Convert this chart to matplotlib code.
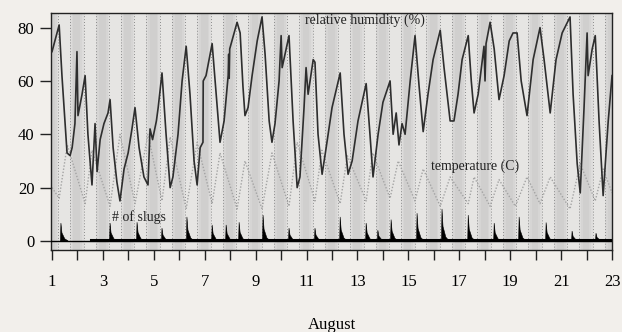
import matplotlib
matplotlib.use("Agg")
import matplotlib.pyplot as plt
import numpy as np

# relative humidity (%): (day of August, value)
rh_day = [1.00, 1.28, 1.39, 1.59, 1.71, 1.79, 1.90, 1.98, 2.02, 2.18, 2.30, 2.41, 2.57, 2.69,
          2.77, 2.89, 3.04, 3.20, 3.28, 3.40, 3.55, 3.67, 3.83, 3.99, 4.14, 4.26, 4.42, 4.61,
          4.77, 4.85, 4.95, 5.10, 5.17, 5.32, 5.48, 5.64, 5.75, 5.95, 6.11, 6.27, 6.42, 6.58,
          6.70, 6.82, 6.93, 6.94, 7.05, 7.29, 7.45, 7.60, 7.76, 7.92, 7.94, 7.96, 7.98, 8.27,
          8.39, 8.50, 8.58, 8.70, 8.86, 9.06, 9.25, 9.37, 9.53, 9.64, 9.76, 9.92, 10.00, 10.04,
          10.20, 10.31, 10.47, 10.63, 10.74, 10.90, 10.98, 11.06, 11.26, 11.33, 11.45, 11.61,
          11.77, 12.00, 12.32, 12.47, 12.63, 12.79, 13.02, 13.34, 13.49, 13.61, 13.81, 14.00,
          14.28, 14.40, 14.52, 14.63, 14.75, 14.87, 15.07, 15.26, 15.42, 15.58, 15.77, 15.97,
          16.25, 16.40, 16.64, 16.79, 16.95, 17.11, 17.35, 17.47, 17.58, 17.74, 17.97, 18.01,
          18.05, 18.21, 18.37, 18.56, 18.76, 18.96, 19.11, 19.27, 19.43, 19.66, 19.90, 20.17,
          20.33, 20.57, 20.80, 21.04, 21.35, 21.47, 21.63, 21.75, 21.90, 22.02, 22.06, 22.22,
          22.34, 22.49, 22.65, 22.85, 23.00]
rh_val = [71, 81, 62, 33, 32, 35, 44, 71, 47, 55, 62, 40, 21, 44,
          26, 38, 44, 48, 53, 35, 22, 15, 27, 33, 42, 50, 35, 24,
          21, 42, 38, 45, 50, 63, 40, 20, 24, 40, 60, 73, 55, 30,
          21, 35, 37, 60, 62, 74, 55, 37, 45, 62, 70, 61, 72, 82,
          78, 58, 47, 50, 62, 75, 84, 70, 45, 37, 44, 60, 77, 65,
          72, 77, 45, 20, 24, 50, 65, 55, 68, 67, 40, 25,
          35, 50, 63, 40, 25, 30, 45, 59, 40, 24, 40, 52,
          60, 40, 48, 36, 44, 40, 60, 77, 58, 41, 55, 68,
          79, 65, 45, 45, 55, 68, 77, 60, 48, 55, 73, 60,
          74, 82, 72, 53, 62, 75, 78, 78, 60, 47, 68, 80,
          68, 48, 68, 78, 84, 55, 29, 18, 50, 78, 62, 72,
          77, 45, 17, 45, 62]

# temperature (C)
temp_day = [1.00, 1.28, 1.60, 2.30, 2.57, 3.28, 3.67, 4.26, 4.77, 5.32, 5.64, 6.27, 6.70,
            7.29, 7.60, 8.27, 8.58, 9.25, 9.64, 10.31, 10.63, 11.33, 11.60, 12.32, 12.60,
            13.34, 13.60, 14.28, 14.60, 15.26, 15.58, 16.25, 16.64, 17.35, 17.58, 18.21,
            18.56, 19.20, 19.66, 20.17, 20.57, 21.35, 21.75, 22.34, 22.65, 23.00]
temp_val = [20, 16, 36, 14, 34, 13, 40, 14, 40, 15, 39, 12, 37,
            14, 33, 12, 30, 12, 33, 13, 37, 15, 34, 14, 32,
            15, 33, 16, 30, 15, 27, 13, 24, 14, 24, 13,
            23, 13, 24, 14, 24, 12, 29, 15, 27, 18]

# number of slugs: nightly peaks (day, count)
slug_day = [1.35, 3.28, 4.34, 5.32, 6.30, 7.29, 7.84, 8.35, 9.29, 10.31, 11.33, 12.32,
            13.34, 13.80, 14.32, 15.34, 16.32, 17.35, 18.37, 19.35, 20.41, 21.43, 22.37]
slug_val = [6.7, 6.7, 7.0, 4.8, 9.0, 6.0, 6.0, 7.0, 9.7, 4.8, 4.8, 9.0,
            6.7, 4.0, 8.0, 10.4, 12.0, 9.7, 6.7, 9.0, 6.9, 3.7, 2.9]
slug_start, slug_end = 2.55, 23.0

days = list(range(1, 23))
sunrise, sunset = 0.24, 0.71   # fraction of the day

plt.rcParams["font.family"] = ["Liberation Serif", "DejaVu Serif"]
paper = "#f2efeb"
fig = plt.figure(figsize=(6.22, 3.32), dpi=100, facecolor=paper)
ax = fig.add_axes([0.082, 0.247, 0.902, 0.714])
ax.set_facecolor("#e6e5e3")

# night shading (soft edges) and sunrise / sunset marks
for d in [0] + days:
    for inset, c in ((0.0, "#dddcdb"), (0.06, "#d6d5d4"), (0.13, "#d0cfce")):
        ax.axvspan(d + sunset + inset, d + 1 + sunrise - inset, color=c, lw=0, zorder=0)
for d in days:
    for f in (sunrise, sunset):
        ax.axvline(d + f, color="#8c8c8c", lw=0.7, ls=(0, (1, 2)), zorder=1)

ax.plot(temp_day, temp_val, color="#a3a3a3", lw=1.0, ls=(0, (1, 1.3)), zorder=2)
ax.plot(rh_day, rh_val, color="#2e2e2e", lw=1.2, zorder=3)

# slugs: baseline + filled spikes
ax.axhline(0, color="black", lw=1.0, zorder=4)
ax.plot([slug_start, slug_end], [0.3, 0.3], color="black", lw=2.2, zorder=4)
for t, h in zip(slug_day, slug_val):
    ax.fill([t - 0.02, t, t + 0.04, t + 0.15, t + 0.28],
            [0, h, h * 0.45, h * 0.12, 0], color="black", lw=0.4, zorder=4)

ax.text(10.95, 81.5, "relative humidity (%)", fontsize=10, color="#222222")
ax.text(15.9, 26.5, "temperature (C)", fontsize=10, color="#222222")
ax.text(3.35, 7.5, "# of slugs", fontsize=10, color="#222222")

ax.set_xlim(0.96, 23.0)
ax.set_ylim(-3.4, 85.5)
ax.set_xticks(days + [23])
ax.set_xticklabels([str(d) if d % 2 else "" for d in days + [23]])
ax.set_yticks([0, 20, 40, 60, 80])
ax.tick_params(axis="both", direction="out", labelsize=12, width=1.0, color="#222222")
ax.tick_params(axis="x", length=7, pad=10)
ax.tick_params(axis="y", length=8, pad=4)
for s in ax.spines.values():
    s.set_linewidth(1.0)
    s.set_color("#222222")
ax.set_xlabel("August", fontsize=12, labelpad=20)

fig.savefig("out.png", dpi=100, facecolor=paper)
